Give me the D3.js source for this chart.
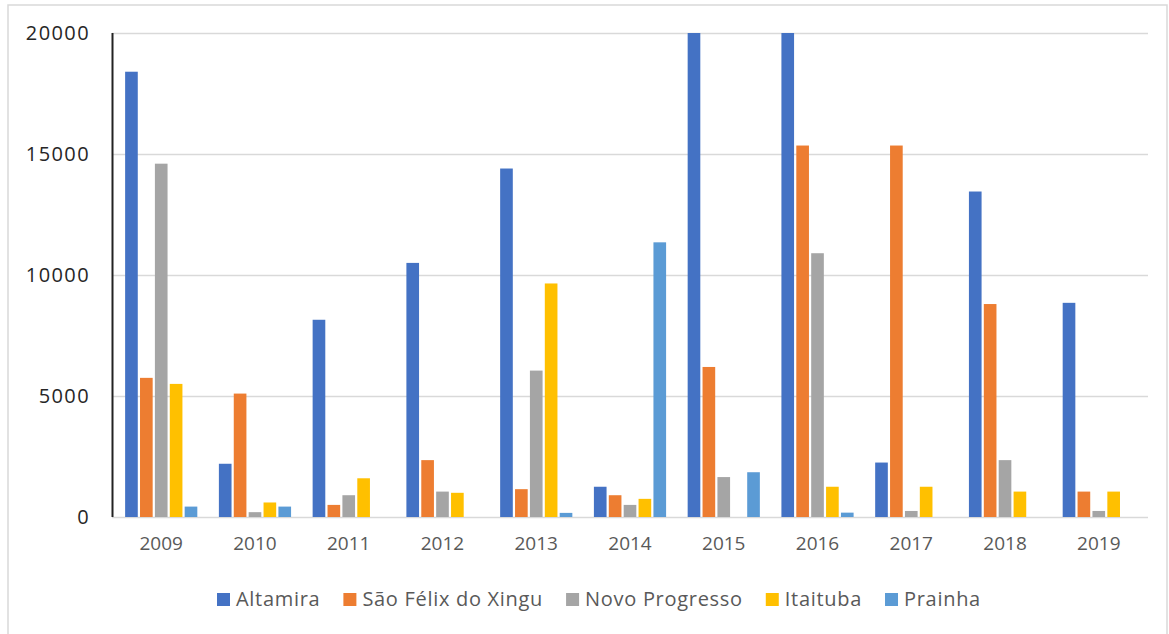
<!DOCTYPE html>
<html>
<head>
<meta charset="utf-8">
<script src="https://cdn.jsdelivr.net/npm/d3@7"></script>
<style>
  body { margin: 0; background: #fff; }
  svg { display: block; }
</style>
</head>
<body>
<svg id="chart"></svg>
<script>
const width = 1169;
const height = 634;
const margin = { top: 33, right: 21, bottom: 117, left: 112 };

const years = ["2009", "2010", "2011", "2012", "2013", "2014", "2015", "2016", "2017", "2018", "2019"];
const seriesNames = ["Altamira", "São Félix do Xingu", "Novo Progresso", "Itaituba", "Prainha"];
const altamira = [18400, 2200, 8150, 10500, 14400, 1250, 20000, 20000, 2250, 13450, 8850];
const saoFelix = [5750, 5100, 500, 2350, 1150, 900, 6200, 15350, 15350, 8800, 1050];
const novoProgresso = [14600, 200, 900, 1050, 6050, 500, 1650, 10900, 250, 2350, 250];
const itaituba = [5500, 600, 1600, 1000, 9650, 750, 0, 1250, 1250, 1050, 1050];
const prainha = [430, 430, 0, 0, 170, 11350, 1850, 180, 0, 0, 0];
const yTicks = [0, 5000, 10000, 15000, 20000];
const colors = ["#4472C4", "#ED7D31", "#A5A5A5", "#FFC000", "#5B9BD5"];

const seriesValues = [altamira, saoFelix, novoProgresso, itaituba, prainha];
const data = years.map((y, i) => ({
    year: y,
    values: seriesNames.map((s, j) => ({ name: s, value: seriesValues[j][i] }))
}));

const svg = d3.select("#chart")
    .attr("width", width)
    .attr("height", height);

// outer frame
svg.append("path")
    .attr("d", `M8,${height} V5 H${width - 2} V${height}`)
    .attr("fill", "none")
    .attr("stroke", "#d9d9d9")
    .attr("stroke-width", 1.5);

const x0 = d3.scaleBand()
    .domain(years)
    .range([margin.left, width - margin.right])
    .paddingInner(0.23)
    .paddingOuter(0.14);

const x1 = d3.scaleBand()
    .domain(seriesNames)
    .range([0, x0.bandwidth()])
    .paddingInner(0.15);

const yScale = d3.scaleLinear()
    .domain([0, 20000])
    .range([height - margin.bottom, margin.top])
    .clamp(true);

const color = d3.scaleOrdinal().domain(seriesNames).range(colors);

// grid lines
svg.append("g")
    .selectAll("line")
    .data(yTicks)
    .join("line")
    .attr("x1", margin.left)
    .attr("x2", width - margin.right)
    .attr("y1", d => yScale(d) + 0.5)
    .attr("y2", d => yScale(d) + 0.5)
    .attr("stroke", "#d9d9d9")
    .attr("stroke-width", 1.5);

// y axis labels
svg.append("g")
    .attr("transform", `translate(${margin.left},0)`)
    .call(d3.axisLeft(yScale).tickValues(yTicks).tickSize(0).tickPadding(22).tickFormat(d3.format("d")))
    .call(g => g.select(".domain").remove())
    .selectAll("text")
    .attr("font-family", "Open Sans, sans-serif")
    .attr("font-size", "20px")
    .attr("letter-spacing", "1.4px")
    .attr("fill", "#262626");

// bars
svg.append("g")
    .selectAll("g")
    .data(data)
    .join("g")
    .attr("transform", d => `translate(${x0(d.year)},0)`)
    .selectAll("rect")
    .data(d => d.values)
    .join("rect")
    .attr("x", d => x1(d.name))
    .attr("y", d => yScale(d.value))
    .attr("width", x1.bandwidth())
    .attr("height", d => yScale(0) - yScale(d.value))
    .attr("fill", d => color(d.name));

// y axis line
svg.append("line")
    .attr("x1", margin.left + 0.5)
    .attr("x2", margin.left + 0.5)
    .attr("y1", yScale(20000))
    .attr("y2", yScale(0))
    .attr("stroke", "#222")
    .attr("stroke-width", 2);

// x axis labels
svg.append("g")
    .attr("transform", `translate(0,${height - margin.bottom})`)
    .call(d3.axisBottom(x0).tickSize(0).tickPadding(20))
    .call(g => g.select(".domain").remove())
    .selectAll("text")
    .attr("font-family", "Open Sans, sans-serif")
    .attr("font-size", "19px")
    .attr("fill", "#595959");

// legend
const legend = svg.append("g").attr("transform", "translate(217,593)");
let lx = 0;
seriesNames.forEach((name, i) => {
    const item = legend.append("g").attr("transform", `translate(${lx},0)`);
    item.append("rect")
        .attr("width", 13)
        .attr("height", 13)
        .attr("fill", colors[i]);
    const t = item.append("text")
        .attr("x", 19)
        .attr("y", 13)
        .attr("font-family", "Open Sans, sans-serif")
        .attr("font-size", "20px")
        .attr("letter-spacing", "0.7px")
        .attr("fill", "#595959")
        .text(name);
    lx += 19 + t.node().getComputedTextLength() + 23;
});
</script>
</body>
</html>
